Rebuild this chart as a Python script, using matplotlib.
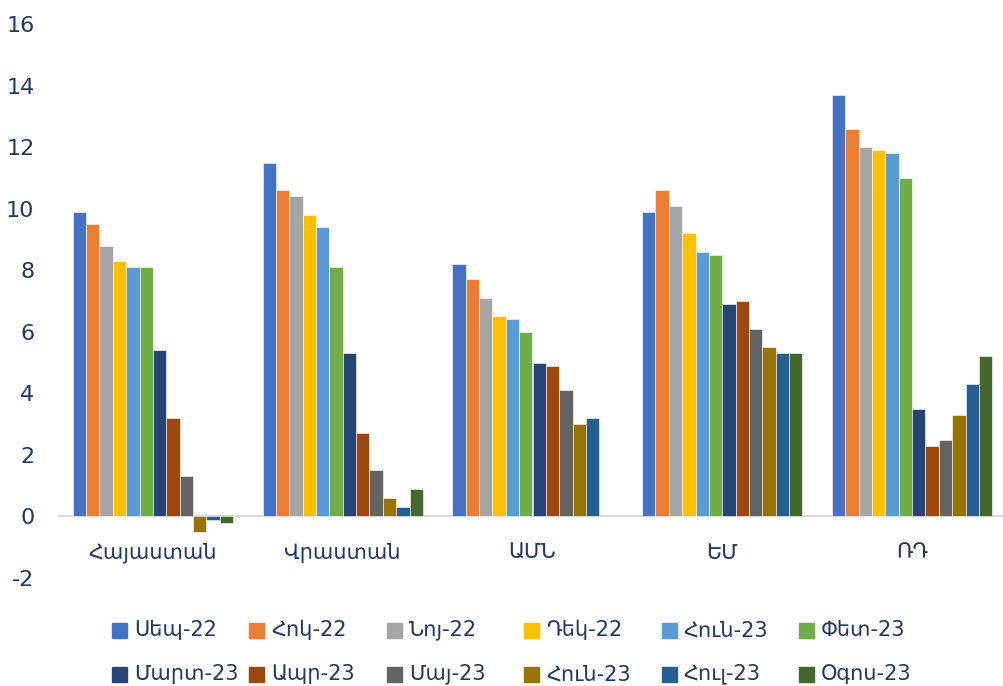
import matplotlib
matplotlib.use("Agg")
import matplotlib.pyplot as plt
from matplotlib.patches import Rectangle
import numpy as np

plt.rcParams['font.family'] = ['DejaVu Sans']
plt.rcParams['axes.unicode_minus'] = False

categories = ["Հայաստան", "Վրաստան", "ԱՄՆ", "ԵՄ", "ՌԴ"]
months = ["Սեպ-22", "Հոկ-22", "Նոյ-22", "Դեկ-22", "Հուն-23", "Փետ-23",
          "Մարտ-23", "Ապր-23", "Մայ-23", "Հուն-23", "Հուլ-23", "Օգոս-23"]
colors = ["#4472C4", "#ED7D31", "#A5A5A5", "#FFC000", "#5B9BD5", "#70AD47",
          "#264478", "#9E480E", "#636363", "#997300", "#255E91", "#43682B"]

# values per month, order of categories
sep22 = [9.9, 11.5, 8.2, 9.9, 13.7]
oct22 = [9.5, 10.6, 7.7, 10.6, 12.6]
nov22 = [8.8, 10.4, 7.1, 10.1, 12.0]
dec22 = [8.3, 9.8, 6.5, 9.2, 11.9]
jan23 = [8.1, 9.4, 6.4, 8.6, 11.8]
feb23 = [8.1, 8.1, 6.0, 8.5, 11.0]
mar23 = [5.4, 5.3, 5.0, 6.9, 3.5]
apr23 = [3.2, 2.7, 4.9, 7.0, 2.3]
may23 = [1.3, 1.5, 4.1, 6.1, 2.5]
jun23 = [-0.5, 0.6, 3.0, 5.5, 3.3]
jul23 = [-0.1, 0.3, 3.2, 5.3, 4.3]
aug23 = [-0.2, 0.9, np.nan, 5.3, 5.2]
series = [sep22, oct22, nov22, dec22, jan23, feb23, mar23, apr23, may23, jun23, jul23, aug23]

txt_color = "#1F3864"
W, H = 1004, 686

fig = plt.figure(figsize=(W / 100, H / 100), dpi=100)
ax = fig.add_axes([58 / W, 1 - 578 / H, 949 / W, (578 - 24) / H])

x = np.arange(len(categories))
w = 0.0704
for i, (vals, c) in enumerate(zip(series, colors)):
    ax.bar(x + (i - 5.5) * w, vals, width=w, color=c, edgecolor='white', linewidth=0.4)

ax.axhline(0, color='#D9D9D9', lw=1.5, zorder=0.5)
ax.set_xlim(-0.5, 4.5)
ax.set_ylim(-2, 16)
ax.set_yticks(np.arange(-2, 17, 2))
ax.set_xticks([])
for s in ax.spines.values():
    s.set_visible(False)
ax.tick_params(axis='y', length=0, pad=17, labelsize=16, labelcolor=txt_color)

for i, cat in enumerate(categories):
    ax.annotate(cat, (i, 0), xytext=(0, -26), textcoords='offset points',
                ha='center', va='center', fontsize=15, color=txt_color)

# legend, 2 rows x 6 columns
for k, (lab, c) in enumerate(zip(months, colors)):
    row, col = divmod(k, 6)
    x0 = 112 + 137.4 * col
    yc = 630 + 44 * row
    fig.add_artist(Rectangle((x0 / W, 1 - (yc + 7.5) / H), 15 / W, 15 / H,
                             transform=fig.transFigure, color=c))
    fig.text((x0 + 22) / W, 1 - yc / H, lab, ha='left', va='center',
             fontsize=15, color=txt_color)

fig.savefig("out.png", dpi=100)
